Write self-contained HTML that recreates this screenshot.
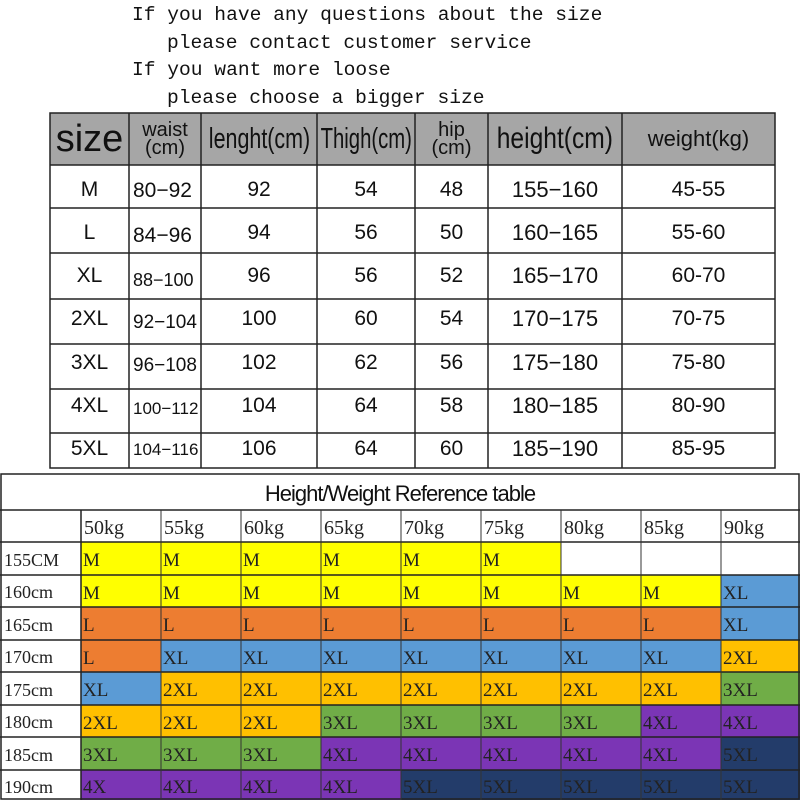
<!DOCTYPE html>
<html><head><meta charset="utf-8"><style>
body{margin:0;width:800px;height:800px;background:#fff;position:relative;overflow:hidden;font-family:"Liberation Sans",sans-serif}
.t{position:absolute;font-family:"Liberation Mono",monospace;font-size:19.6px;line-height:20px;color:#111;white-space:pre}
.c{position:absolute;box-sizing:border-box;display:flex;align-items:center;justify-content:center;color:#111;font-family:"Liberation Sans",sans-serif}
.n{display:inline-block;transform:scaleX(0.8);white-space:nowrap}
</style></head><body>
<div class="t" style="left:132px;top:5px">If you have any questions about the size</div>
<div class="t" style="left:167px;top:33px">please contact customer service</div>
<div class="t" style="left:132px;top:60px">If you want more loose</div>
<div class="t" style="left:167px;top:88px">please choose a bigger size</div>

<svg style="position:absolute;left:0;top:0" width="800" height="800">
<rect x="50" y="113" width="725" height="52" fill="#a6a6a6"/>
<g stroke="#222" stroke-width="1.5" fill="none">
<rect x="50" y="113" width="725" height="355"/>
<line x1="50" y1="165" x2="775" y2="165"/><line x1="50" y1="208" x2="775" y2="208"/><line x1="50" y1="253" x2="775" y2="253"/><line x1="50" y1="299" x2="775" y2="299"/><line x1="50" y1="344" x2="775" y2="344"/><line x1="50" y1="389" x2="775" y2="389"/><line x1="50" y1="433" x2="775" y2="433"/>
<line x1="129" y1="113" x2="129" y2="468"/><line x1="201" y1="113" x2="201" y2="468"/><line x1="317" y1="113" x2="317" y2="468"/><line x1="415" y1="113" x2="415" y2="468"/><line x1="488" y1="113" x2="488" y2="468"/><line x1="622" y1="113" x2="622" y2="468"/>
</g>
</svg>
<div class="c" style="left:50px;top:113px;width:79px;height:52px;font-size:38px">size</div>
<div class="c" style="left:129px;top:113px;width:72px;height:52px;font-size:20px;line-height:18px;text-align:center">waist<br>(cm)</div>
<div class="c" style="left:201px;top:113px;width:116px;height:52px;font-size:29px"><span class="n" style="transform:scaleX(0.74)">lenght(cm)</span></div>
<div class="c" style="left:317px;top:113px;width:98px;height:52px;font-size:29px"><span class="n" style="transform:scaleX(0.7)">Thigh(cm)</span></div>
<div class="c" style="left:415px;top:113px;width:73px;height:52px;font-size:20px;line-height:18px;text-align:center">hip<br>(cm)</div>
<div class="c" style="left:488px;top:113px;width:134px;height:52px;font-size:30px"><span class="n" style="transform:scaleX(0.82)">height(cm)</span></div>
<div class="c" style="left:622px;top:113px;width:153px;height:52px;font-size:22px">weight(kg)</div>

<div class="c" style="left:50px;top:168px;width:79px;height:303px;flex-direction:column;font-size:21px;justify-content:space-around">
<span>M</span><span>L</span><span>XL</span><span>2XL</span><span>3XL</span><span>4XL</span><span>5XL</span></div>
<div class="c" style="left:129px;top:168px;width:72px;height:303px;flex-direction:column;font-size:21px;justify-content:space-around;align-items:flex-start;padding-left:4px">
<span>80−92</span><span>84−96</span><span style="font-size:18px">88−100</span><span style="font-size:19px">92−104</span><span style="font-size:19px">96−108</span><span style="font-size:17px">100−112</span><span style="font-size:17px">104−116</span></div>
<div class="c" style="left:201px;top:168px;width:116px;height:303px;flex-direction:column;font-size:21px;justify-content:space-around">
<span>92</span><span>94</span><span>96</span><span>100</span><span>102</span><span>104</span><span>106</span></div>
<div class="c" style="left:317px;top:168px;width:98px;height:303px;flex-direction:column;font-size:21px;justify-content:space-around">
<span>54</span><span>56</span><span>56</span><span>60</span><span>62</span><span>64</span><span>64</span></div>
<div class="c" style="left:415px;top:168px;width:73px;height:303px;flex-direction:column;font-size:21px;justify-content:space-around">
<span>48</span><span>50</span><span>52</span><span>54</span><span>56</span><span>58</span><span>60</span></div>
<div class="c" style="left:488px;top:168px;width:134px;height:303px;flex-direction:column;font-size:22px;justify-content:space-around">
<span>155−160</span><span>160−165</span><span>165−170</span><span>170−175</span><span>175−180</span><span>180−185</span><span>185−190</span></div>
<div class="c" style="left:622px;top:168px;width:153px;height:303px;flex-direction:column;font-size:21px;justify-content:space-around">
<span>45-55</span><span>55-60</span><span>60-70</span><span>70-75</span><span>75-80</span><span>80-90</span><span>85-95</span></div>

<div class="c" style="left:0;top:476px;width:800px;height:36px;font-size:22px;letter-spacing:-1px">Height/Weight Reference table</div>
<svg style="position:absolute;left:0;top:0" width="800" height="800">
<g>
<rect x="81" y="542" width="480" height="33" fill="#ffff00"/>
<rect x="81" y="575" width="640" height="32" fill="#ffff00"/><rect x="721" y="575" width="79" height="32" fill="#5b9bd5"/>
<rect x="81" y="607" width="640" height="33" fill="#ed7d31"/><rect x="721" y="607" width="79" height="33" fill="#5b9bd5"/>
<rect x="81" y="640" width="80" height="32" fill="#ed7d31"/><rect x="161" y="640" width="560" height="32" fill="#5b9bd5"/><rect x="721" y="640" width="79" height="32" fill="#ffc000"/>
<rect x="81" y="672" width="80" height="33" fill="#5b9bd5"/><rect x="161" y="672" width="560" height="33" fill="#ffc000"/><rect x="721" y="672" width="79" height="33" fill="#70ad47"/>
<rect x="81" y="705" width="240" height="32" fill="#ffc000"/><rect x="321" y="705" width="320" height="32" fill="#70ad47"/><rect x="641" y="705" width="159" height="32" fill="#7b35b5"/>
<rect x="81" y="737" width="240" height="33" fill="#70ad47"/><rect x="321" y="737" width="400" height="33" fill="#7b35b5"/><rect x="721" y="737" width="79" height="33" fill="#233c6a"/>
<rect x="81" y="770" width="320" height="30" fill="#7b35b5"/><rect x="401" y="770" width="399" height="30" fill="#233c6a"/>
</g>
<g stroke="#222" stroke-width="1.5" fill="none">
<rect x="1" y="474" width="798" height="325"/>
<line x1="0" y1="510" x2="800" y2="510"/><line x1="0" y1="542" x2="800" y2="542"/><line x1="0" y1="575" x2="800" y2="575"/><line x1="0" y1="607" x2="800" y2="607"/><line x1="0" y1="640" x2="800" y2="640"/><line x1="0" y1="672" x2="800" y2="672"/><line x1="0" y1="705" x2="800" y2="705"/><line x1="0" y1="737" x2="800" y2="737"/><line x1="0" y1="770" x2="800" y2="770"/>
<line x1="81" y1="510" x2="81" y2="800"/>
</g>
<g stroke="#333" stroke-width="1" fill="none">
<line x1="161" y1="510" x2="161" y2="800"/><line x1="241" y1="510" x2="241" y2="800"/><line x1="321" y1="510" x2="321" y2="800"/><line x1="401" y1="510" x2="401" y2="800"/><line x1="481" y1="510" x2="481" y2="800"/><line x1="561" y1="510" x2="561" y2="800"/><line x1="641" y1="510" x2="641" y2="800"/><line x1="721" y1="510" x2="721" y2="800"/>
</g>
<g font-family="Liberation Serif, serif" fill="#222" font-size="19">
<g font-size="20">
<text x="84" y="534">50kg</text><text x="164" y="534">55kg</text><text x="244" y="534">60kg</text><text x="324" y="534">65kg</text><text x="404" y="534">70kg</text><text x="484" y="534">75kg</text><text x="564" y="534">80kg</text><text x="644" y="534">85kg</text><text x="724" y="534">90kg</text>
</g>
<g font-size="18">
<text x="4" y="566">155CM</text><text x="4" y="598">160cm</text><text x="4" y="631">165cm</text><text x="4" y="663">170cm</text><text x="4" y="696">175cm</text><text x="4" y="728">180cm</text><text x="4" y="761">185cm</text><text x="4" y="793">190cm</text>
</g>
<text x="83" y="566">M</text><text x="163" y="566">M</text><text x="243" y="566">M</text><text x="323" y="566">M</text><text x="403" y="566">M</text><text x="483" y="566">M</text>
<text x="83" y="599">M</text><text x="163" y="599">M</text><text x="243" y="599">M</text><text x="323" y="599">M</text><text x="403" y="599">M</text><text x="483" y="599">M</text><text x="563" y="599">M</text><text x="643" y="599">M</text><text x="723" y="599">XL</text>
<text x="83" y="631">L</text><text x="163" y="631">L</text><text x="243" y="631">L</text><text x="323" y="631">L</text><text x="403" y="631">L</text><text x="483" y="631">L</text><text x="563" y="631">L</text><text x="643" y="631">L</text><text x="723" y="631">XL</text>
<text x="83" y="664">L</text><text x="163" y="664">XL</text><text x="243" y="664">XL</text><text x="323" y="664">XL</text><text x="403" y="664">XL</text><text x="483" y="664">XL</text><text x="563" y="664">XL</text><text x="643" y="664">XL</text><text x="723" y="664">2XL</text>
<text x="83" y="696">XL</text><text x="163" y="696">2XL</text><text x="243" y="696">2XL</text><text x="323" y="696">2XL</text><text x="403" y="696">2XL</text><text x="483" y="696">2XL</text><text x="563" y="696">2XL</text><text x="643" y="696">2XL</text><text x="723" y="696">3XL</text>
<text x="83" y="729">2XL</text><text x="163" y="729">2XL</text><text x="243" y="729">2XL</text><text x="323" y="729">3XL</text><text x="403" y="729">3XL</text><text x="483" y="729">3XL</text><text x="563" y="729">3XL</text><text x="643" y="729">4XL</text><text x="723" y="729">4XL</text>
<text x="83" y="761">3XL</text><text x="163" y="761">3XL</text><text x="243" y="761">3XL</text><text x="323" y="761">4XL</text><text x="403" y="761">4XL</text><text x="483" y="761">4XL</text><text x="563" y="761">4XL</text><text x="643" y="761">4XL</text><text x="723" y="761">5XL</text>
<text x="83" y="793">4X</text><text x="163" y="793">4XL</text><text x="243" y="793">4XL</text><text x="323" y="793">4XL</text><text x="403" y="793">5XL</text><text x="483" y="793">5XL</text><text x="563" y="793">5XL</text><text x="643" y="793">5XL</text><text x="723" y="793">5XL</text>
</g>
</svg>
</body></html>
